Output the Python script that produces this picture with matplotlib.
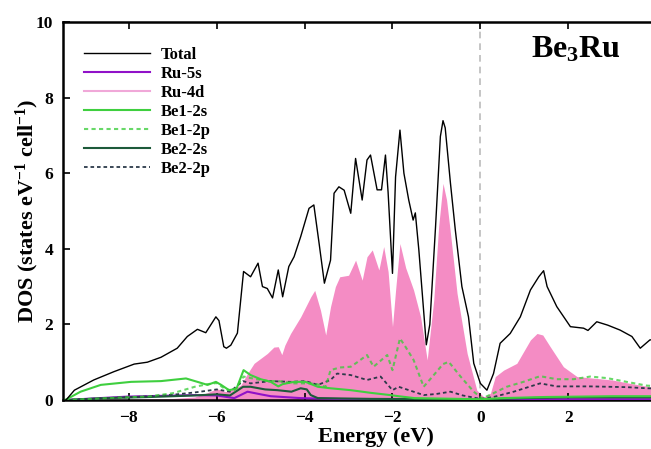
import numpy as np
import matplotlib
matplotlib.use("Agg")
import matplotlib.pyplot as plt

plt.rcParams["font.family"] = ["Liberation Serif", "DejaVu Serif"]
plt.rcParams["font.weight"] = "bold"
plt.rcParams["axes.labelweight"] = "bold"
plt.rcParams["mathtext.fontset"] = "custom"
plt.rcParams["mathtext.rm"] = "Liberation Serif:bold"
plt.rcParams["mathtext.bf"] = "Liberation Serif:bold"
plt.rcParams["mathtext.it"] = "Liberation Serif:bold:italic"
plt.rcParams["mathtext.default"] = "rm"

# (energy eV, DOS)
total = [(-9.5, 0), (-9.43, 0), (-9.24, 0.26), (-8.8, 0.53), (-8.34, 0.75), (-7.88, 0.95),
         (-7.58, 1.0), (-7.27, 1.13), (-6.9, 1.37), (-6.67, 1.68), (-6.44, 1.87), (-6.25, 1.78),
         (-6.02, 2.2), (-5.95, 2.1), (-5.84, 1.41), (-5.78, 1.37), (-5.68, 1.45), (-5.53, 1.77),
         (-5.39, 3.4), (-5.23, 3.26), (-5.06, 3.62), (-4.96, 3.0), (-4.85, 2.95), (-4.73, 2.7),
         (-4.6, 3.44), (-4.5, 2.73), (-4.36, 3.53), (-4.24, 3.79), (-4.09, 4.32), (-3.9, 5.07),
         (-3.79, 5.16), (-3.67, 4.14), (-3.55, 3.09), (-3.41, 3.7), (-3.33, 5.47), (-3.22, 5.64),
         (-3.1, 5.55), (-2.95, 4.94), (-2.84, 6.39), (-2.69, 5.29), (-2.58, 6.35), (-2.5, 6.48),
         (-2.35, 5.56), (-2.25, 5.56), (-2.16, 6.48), (-2.1, 5.5), (-2.0, 3.35), (-1.93, 5.9),
         (-1.83, 7.14), (-1.74, 6.0), (-1.63, 5.29), (-1.53, 4.76), (-1.48, 4.95), (-1.4, 3.97),
         (-1.23, 1.46), (-1.15, 2.0), (-1.02, 4.58), (-0.91, 6.97), (-0.85, 7.39), (-0.8, 7.2),
         (-0.68, 5.73), (-0.57, 4.5), (-0.42, 3.0), (-0.27, 2.2), (-0.15, 0.97), (0.0, 0.44),
         (0.15, 0.26), (0.3, 0.7), (0.45, 1.5), (0.68, 1.76), (0.91, 2.2), (1.14, 2.91),
         (1.33, 3.26), (1.44, 3.42), (1.52, 3.0), (1.74, 2.47), (2.05, 1.94), (2.35, 1.9),
         (2.45, 1.84), (2.65, 2.07), (2.9, 1.98), (3.18, 1.85), (3.45, 1.68), (3.64, 1.37),
         (3.86, 1.59), (4.2, 1.6), (4.6, 1.5), (5.0, 1.45)]

ru_5s = [(-9.45, 0), (-8.03, 0.09), (-6.5, 0.13), (-6.0, 0.12), (-5.6, 0.05), (-5.3, 0.22),
         (-5.0, 0.15), (-4.77, 0.1), (-4.09, 0.05), (-3.0, 0.02), (0, 0.01), (2, 0.02), (5, 0.02)]

ru_4d = [(-9.5, 0), (-8.0, 0.02), (-7.0, 0.04), (-6.5, 0.08), (-6.2, 0.2), (-6.0, 0.3),
         (-5.8, 0.22), (-5.6, 0.3), (-5.45, 0.4), (-5.3, 0.7), (-5.15, 0.97), (-5.0, 1.1),
         (-4.85, 1.23), (-4.7, 1.4), (-4.6, 1.41), (-4.52, 1.2), (-4.45, 1.45), (-4.32, 1.76),
         (-4.09, 2.2), (-3.86, 2.73), (-3.77, 2.9), (-3.64, 2.38), (-3.52, 1.72), (-3.41, 2.47),
         (-3.3, 3.0), (-3.2, 3.26), (-3.0, 3.3), (-2.84, 3.7), (-2.69, 3.17), (-2.58, 3.79),
         (-2.46, 3.97), (-2.31, 3.44), (-2.2, 4.06), (-2.1, 3.4), (-2.0, 1.94), (-1.93, 2.9),
         (-1.83, 4.14), (-1.7, 3.5), (-1.52, 2.91), (-1.36, 2.2), (-1.21, 1.06), (-1.06, 2.65),
         (-0.95, 4.58), (-0.85, 5.73), (-0.77, 5.3), (-0.68, 4.41), (-0.53, 2.82), (-0.3, 1.23),
         (-0.08, 0.26), (0.08, 0.08), (0.23, 0.18), (0.34, 0.62), (0.53, 0.79), (0.83, 0.97),
         (1.14, 1.59), (1.29, 1.76), (1.42, 1.72), (1.59, 1.41), (1.89, 0.88), (2.2, 0.62),
         (2.65, 0.57), (3.0, 0.53), (3.41, 0.44), (3.86, 0.35), (4.5, 0.3), (5.0, 0.28)]

be1_2s = [(-9.45, 0), (-9.1, 0.22), (-8.64, 0.4), (-7.95, 0.48), (-7.27, 0.5), (-6.7, 0.57),
          (-6.44, 0.48), (-6.21, 0.4), (-6.02, 0.48), (-5.9, 0.4), (-5.72, 0.26), (-5.55, 0.3),
          (-5.39, 0.79), (-5.23, 0.66), (-5.0, 0.55), (-4.77, 0.48), (-4.6, 0.36), (-4.5, 0.42),
          (-4.24, 0.48), (-3.98, 0.48), (-3.7, 0.35), (-3.41, 0.31), (-2.95, 0.26), (-2.5, 0.19),
          (-2.05, 0.13), (-1.86, 0.1), (-1.5, 0.05), (-1.0, 0.04), (-0.5, 0.03), (0, 0.02),
          (0.5, 0.05), (1.5, 0.08), (3.0, 0.1), (5.0, 0.1)]

be1_2p = [(-9.45, 0), (-8.5, 0.05), (-7.5, 0.1), (-7.0, 0.18), (-6.5, 0.35), (-6.2, 0.42),
          (-6.0, 0.45), (-5.8, 0.28), (-5.6, 0.25), (-5.39, 0.62), (-5.1, 0.55), (-4.8, 0.5),
          (-4.6, 0.5), (-4.24, 0.44), (-3.79, 0.44), (-3.52, 0.35), (-3.41, 0.79), (-3.2, 0.86),
          (-2.95, 0.88), (-2.8, 1.0), (-2.58, 1.19), (-2.43, 0.88), (-2.12, 1.19), (-2.0, 0.79),
          (-1.83, 1.63), (-1.7, 1.4), (-1.52, 1.06), (-1.29, 0.35), (-1.06, 0.66), (-0.85, 0.95),
          (-0.72, 1.01), (-0.45, 0.62), (-0.15, 0.22), (0.04, 0.04), (0.3, 0.18), (0.6, 0.35),
          (0.98, 0.48), (1.36, 0.63), (1.74, 0.55), (2.12, 0.55), (2.5, 0.62), (2.88, 0.58),
          (3.33, 0.48), (3.79, 0.38), (4.3, 0.35), (5.0, 0.32)]

be2_2s = [(-9.45, 0), (-8.5, 0.05), (-7.5, 0.08), (-6.5, 0.12), (-6.0, 0.15), (-5.7, 0.12),
          (-5.4, 0.35), (-5.23, 0.35), (-4.9, 0.28), (-4.62, 0.26), (-4.3, 0.22), (-4.09, 0.31),
          (-3.95, 0.28), (-3.86, 0.13), (-3.7, 0.05), (-2.5, 0.03), (-1.0, 0.02), (0, 0.01),
          (1.0, 0.05), (2.0, 0.07), (3.5, 0.07), (5.0, 0.07)]

be2_2p = [(-9.45, 0), (-8.5, 0.05), (-7.5, 0.1), (-7.0, 0.14), (-6.5, 0.2), (-6.0, 0.28),
          (-5.7, 0.22), (-5.4, 0.5), (-5.23, 0.44), (-4.77, 0.5), (-4.32, 0.48), (-3.98, 0.5),
          (-3.7, 0.4), (-3.41, 0.53), (-3.26, 0.7), (-2.95, 0.66), (-2.58, 0.53), (-2.27, 0.62),
          (-2.0, 0.26), (-1.86, 0.35), (-1.6, 0.25), (-1.29, 0.13), (-1.0, 0.16), (-0.68, 0.22),
          (-0.4, 0.12), (0.0, 0.03), (0.3, 0.08), (0.76, 0.22), (1.36, 0.44), (1.74, 0.36),
          (2.5, 0.36), (3.33, 0.34), (3.79, 0.31), (5.0, 0.28)]

xticks = [-8, -6, -4, -2, 0, 2, 4]
yticks = [0, 2, 4, 6, 8, 10]


def xy(pairs):
    a = np.array(pairs, dtype=float)
    return a[:, 0], a[:, 1]


W, H = 651, 449
fig = plt.figure(figsize=(W / 100, H / 100), dpi=100)
# axes run past the right edge of the picture (cropped figure)
left, right, bottom, top = 63, 700, 400, 22
ax = fig.add_axes([left / W, (H - bottom) / H, (right - left) / W, (bottom - top) / H])

pink = "#f48cc4"
e, d = xy(ru_4d)
ax.fill_between(e, 0, d, color=pink, lw=0, zorder=1)
h_ru4d, = ax.plot([], [], color="#f0a8d8", lw=1.5, label="Ru-4d")

ax.axvline(0, color="#bbbbbb", ls=(0, (4, 3)), lw=1.2, zorder=0.5)

lines = [
    (total, "Total", "black", "-", 1.0, 6, 1.0),
    (ru_5s, "Ru-5s", "#9012c8", "-", 1.5, 3, 1.0),
    (be1_2s, "Be1-2s", "#3fcf3f", "-", 1.5, 4, 1.0),
    (be1_2p, "Be1-2p", "#36cc36", (0, (2, 1.6)), 1.5, 4, 0.75),
    (be2_2s, "Be2-2s", "#1d5a3a", "-", 1.5, 3, 1.0),
    (be2_2p, "Be2-2p", "#2c3a4a", (0, (2, 1.6)), 1.3, 3, 1.0),
]
handles = {}
for pairs, name, col, ls, lw, z, a in lines:
    e, d = xy(pairs)
    handles[name], = ax.plot(e, d, color=col, ls=ls, lw=lw, zorder=z, alpha=a, label=name)

order = [handles["Total"], handles["Ru-5s"], h_ru4d, handles["Be1-2s"],
         handles["Be1-2p"], handles["Be2-2s"], handles["Be2-2p"]]
ax.legend(handles=order, labels=[h.get_label() for h in order],
          loc="upper left", bbox_to_anchor=(left / W + 0.014, (H - top) / H - 0.03),
          bbox_transform=fig.transFigure, frameon=False, fontsize=12,
          handlelength=4.0, handletextpad=0.6, labelspacing=0.18, borderpad=0.2)

ax.set_xlim(-9.5, 5)
ax.set_ylim(0, 10)
ax.set_xticks(xticks)
ax.set_yticks(yticks)
ax.tick_params(direction="in", top=True, right=True, length=5, width=1.2,
               labelsize=12.5, pad=7)
for s in ax.spines.values():
    s.set_linewidth(1.8)

ax.set_xlabel("Energy (eV)", fontsize=16)
ax.set_ylabel("DOS (states eV$^{-1}$ cell$^{-1}$)", fontsize=16)
# label positions as placed in the original
ax.xaxis.set_label_coords((376 - left) / (right - left), -(427 - bottom) / (bottom - top))
ax.yaxis.set_label_coords((41 - left) / (right - left), 0.5)

fig.text(576 / W, 1 - 50 / H, "Be$_3$Ru", fontsize=23, ha="center", va="center")

fig.savefig("out.png", dpi=100)
